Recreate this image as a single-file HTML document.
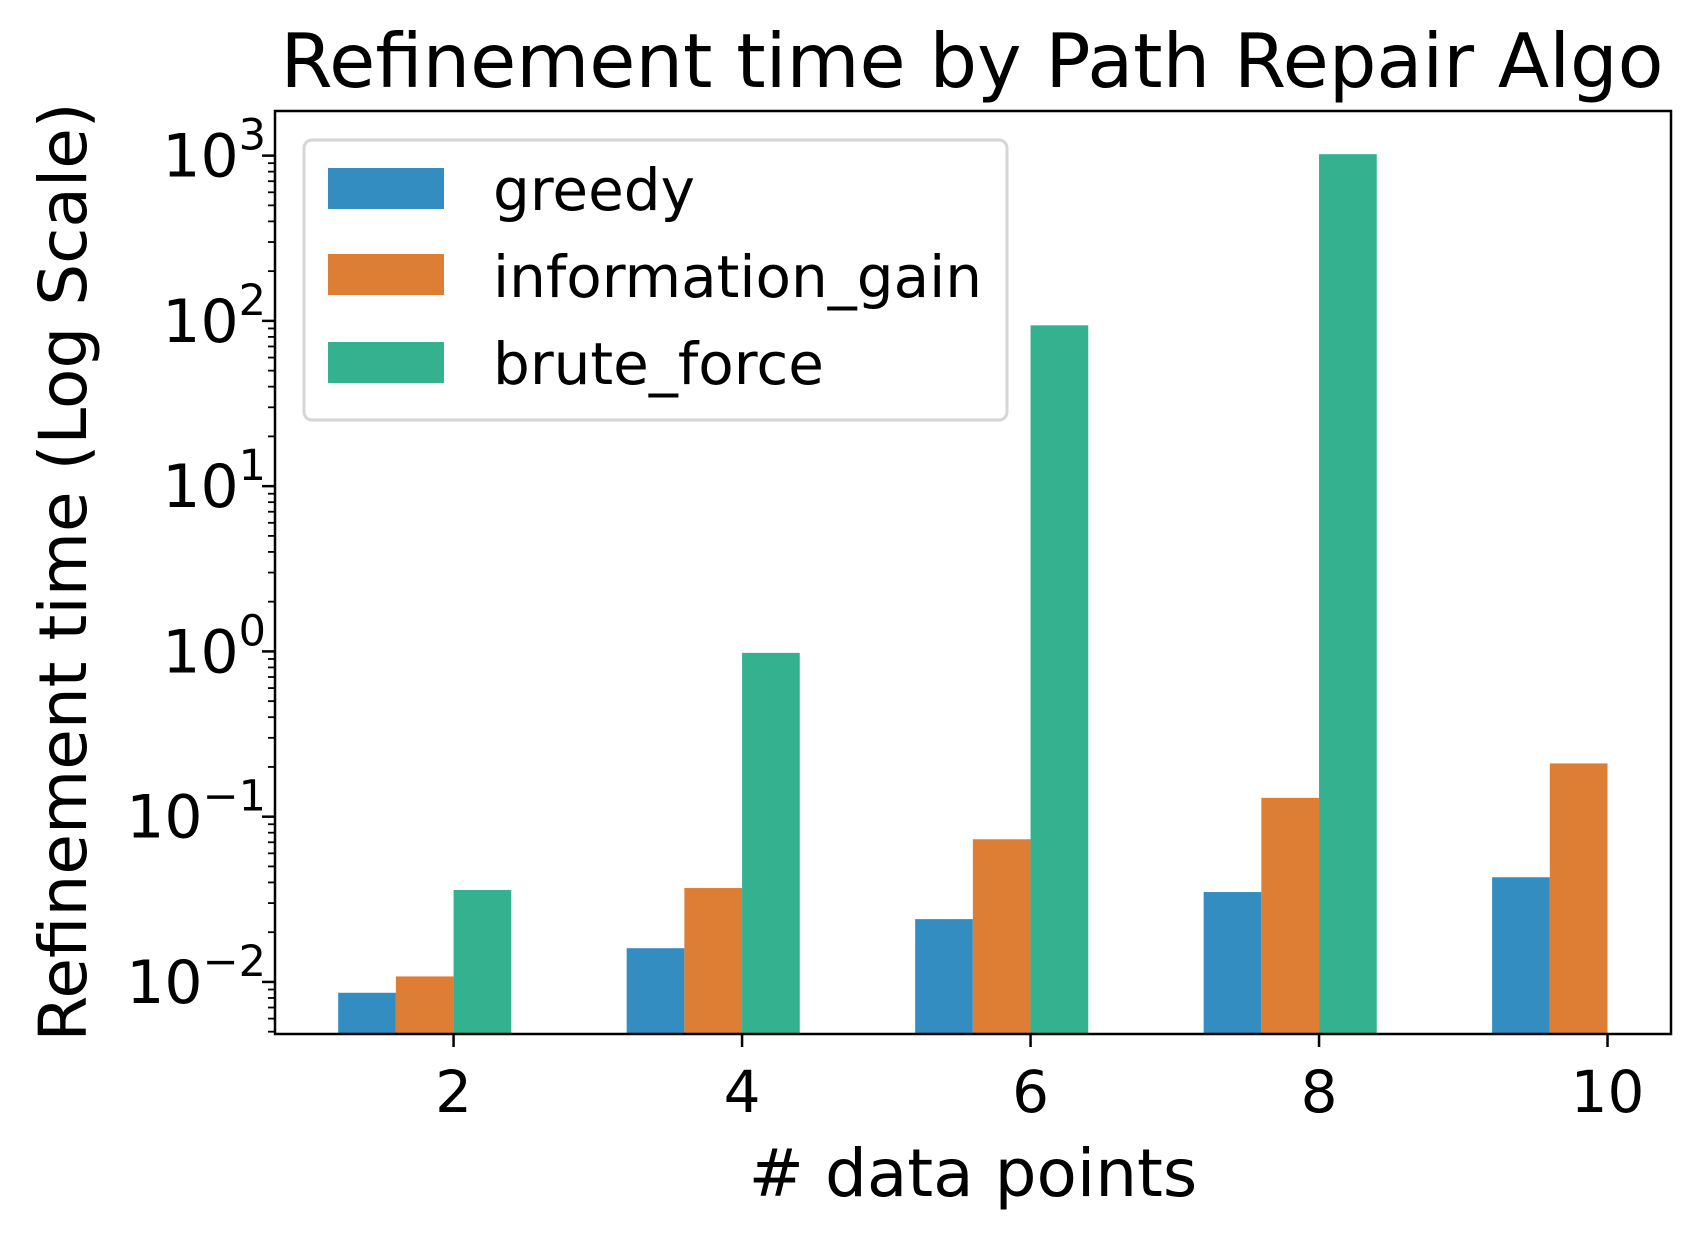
<!DOCTYPE html>
<html><head><meta charset="utf-8"><style>
html,body{margin:0;padding:0;background:#fff}
svg{display:block;font-family:"DejaVu Sans","Liberation Sans",sans-serif}
</style></head><body>
<svg id="chart" width="1700" height="1234" viewBox="0 0 1700 1234" xmlns="http://www.w3.org/2000/svg">
<text x="972" y="87" font-size="75" text-anchor="middle">Refinement time by Path Repair Algo</text>
<text transform="translate(86,572) rotate(-90)" font-size="66" text-anchor="middle">Refinement time (Log Scale)</text>
<text x="973" y="1196" font-size="66" text-anchor="middle"># data points</text>
<g id="bars"></g>
<g id="axes"></g>
<g id="legend">
<rect x="304" y="140" width="703" height="280" rx="8" fill="#fff" fill-opacity="0.85" stroke="#d6d6d6" stroke-width="3"/>
<rect x="328" y="168" width="116" height="41" fill="#348dc1"/>
<text x="493" y="210" font-size="58">greedy</text>
<rect x="328" y="254" width="116" height="41" fill="#dd7e34"/>
<text x="493" y="297" font-size="58">information_gain</text>
<rect x="328" y="342" width="116" height="41" fill="#34b18f"/>
<text x="493" y="384" font-size="58">brute_force</text>
</g>
</svg>
<script>
const categories = [2, 4, 6, 8, 10];
const greedy = [0.0086, 0.016, 0.024, 0.035, 0.043];
const informationGain = [0.0108, 0.037, 0.073, 0.13, 0.21];
const bruteForce = [0.036, 0.98, 94, 1020, null];
const yTickExps = [-2, -1, 0, 1, 2, 3];

const NS = 'http://www.w3.org/2000/svg';
const L = 275, R = 1671, T = 111, B = 1034;
const yMinLog = -2.315, yMaxLog = 3.27;
const xMin = 0.762, xMax = 10.44;
const barW = 0.4;
function xs(v){ return L + (v - xMin) / (xMax - xMin) * (R - L); }
function ys(v){ return B - (Math.log10(v) - yMinLog) / (yMaxLog - yMinLog) * (B - T); }
function mk(tag, attrs, parent){ const e = document.createElementNS(NS, tag); for (const k in attrs) e.setAttribute(k, attrs[k]); parent.appendChild(e); return e; }

const barsG = document.getElementById('bars');
const series = [
  {vals: greedy, color: '#348dc1', off: -2, name: 'greedy'},
  {vals: informationGain, color: '#dd7e34', off: -1, name: 'information-gain'},
  {vals: bruteForce, color: '#34b18f', off: 0, name: 'brute-force'}
];
series.forEach(s => {
  categories.forEach((c, i) => {
    const v = s.vals[i];
    if (v == null) return;
    const x0 = xs(c + s.off * barW), x1 = xs(c + (s.off + 1) * barW);
    const y = ys(v);
    const r = mk('rect', {x: x0, y: y, width: x1 - x0, height: B - y, fill: s.color}, barsG);
    
    
  });
});

const ax = document.getElementById('axes');
const frame = mk('rect', {x: L, y: T, width: R - L, height: B - T, fill: 'none', stroke: '#000', 'stroke-width': 2.5}, ax);



categories.forEach(c => {
  const x = xs(c);
  const t = mk('line', {x1: x, x2: x, y1: B, y2: B + 13, stroke: '#000', 'stroke-width': 2.5}, ax);
  
  
  const lb = mk('text', {x: x, y: 1112, 'font-size': 58, 'text-anchor': 'middle'}, ax);
  lb.textContent = String(c);
  
  
});

for (let e = -3; e <= 3; e++) {
  for (let m = 1; m <= 9; m++) {
    const v = m * Math.pow(10, e);
    const lv = Math.log10(v);
    if (lv < yMinLog || lv > yMaxLog) continue;
    const y = ys(v);
    const major = m === 1;
    const t = mk('line', {x1: L, x2: L - (major ? 13 : 7), y1: y, y2: y, stroke: '#000', 'stroke-width': major ? 2.5 : 1.8}, ax);
    
    
  }
}
yTickExps.forEach(e => {
  const y = ys(Math.pow(10, e));
  const lb = mk('text', {x: 266, y: y + 21, 'font-size': 60, 'text-anchor': 'end'}, ax);
  
  
  const base = mk('tspan', {}, lb); base.textContent = '10';
  const sup = mk('tspan', {dy: -27, 'font-size': 43}, lb);
  sup.textContent = e < 0 ? '\u2212' + Math.abs(e) : String(e);
});
</script>
</body></html>
